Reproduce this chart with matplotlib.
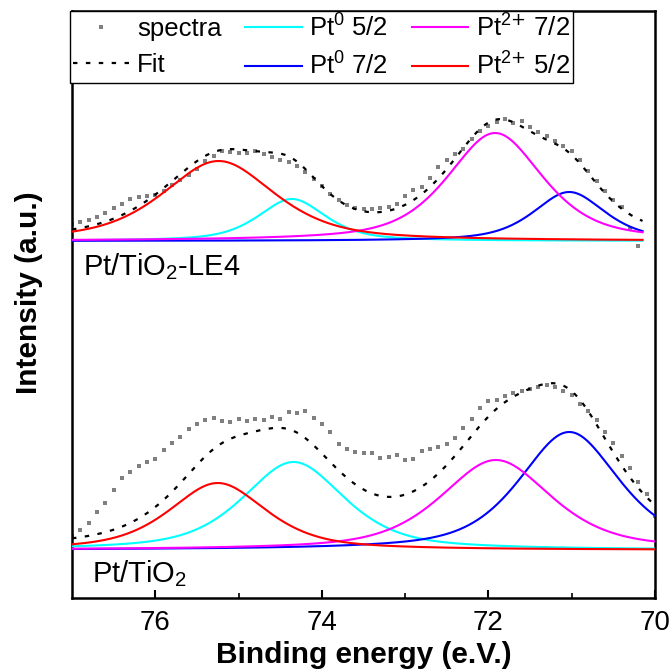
import numpy as np
import matplotlib
matplotlib.use("Agg")
import matplotlib.pyplot as plt
from matplotlib.lines import Line2D

plt.rcParams['font.family'] = ['Liberation Sans', 'DejaVu Sans']
plt.rcParams['mathtext.default'] = 'regular'

# ---- measured spectra (binding energy in eV, intensity in a.u. above background) ----
energy_le4 = np.round(np.arange(77.0, 70.15, -0.1), 1)
spectra_le4 = [17, 19, 21, 24, 28, 33, 37, 42, 44, 45,
               46, 50, 56, 61, 66, 72, 80, 85, 90, 89,
               88, 88, 90, 87, 84, 81, 79, 75, 69, 62,
               55, 47, 41, 36, 33, 32, 32, 33, 34, 37,
               45, 51, 54, 63, 74, 81, 87, 92, 102, 110,
               115, 119, 122, 118, 120, 114, 109, 105, 100, 95,
               90, 81, 70, 60, 50, 41, 34, 12, -5]

energy_ref = np.round(np.arange(77.0, 69.95, -0.1), 1)
spectra_ref = [14, 20, 27, 38, 47, 60, 72, 78, 84, 88,
               91, 100, 107, 113, 121, 126, 130, 132, 129, 128,
               131, 129, 131, 130, 133, 131, 138, 137, 139, 132,
               126, 118, 106, 101, 98, 97, 97, 92, 93, 95,
               90, 91, 99, 101, 103, 106, 112, 122, 131, 142,
               149, 150, 154, 157, 159, 161, 163, 165, 163, 159,
               155, 146, 139, 130, 118, 107, 94, 82, 68, 56,
               34]

# ---- fitted components: Pt0 5/2, Pt0 7/2, Pt2+ 7/2, Pt2+ 5/2 ----
peak_labels = [r'Pt$^0$ 5/2', r'Pt$^0$ 7/2', r'Pt$^{2\text{+}}$ 7/2', r'Pt$^{2\text{+}}$ 5/2']
peak_colors = ['#00FFFF', '#0000FF', '#FF00FF', '#FF0000']

centers_le4 = [74.36, 71.03, 71.92, 75.24]
heights_le4 = [42, 49, 108, 80]
fwhm_le4 = [0.96, 1.02, 1.36, 1.60]

centers_ref = [74.34, 71.03, 71.91, 75.25]
heights_ref = [88, 118, 90, 67]
fwhm_ref = [1.45, 1.43, 1.58, 1.38]

gl_mix = 0.6               # Lorentzian fraction of the pseudo-Voigt line shape
offset_le4 = 357           # vertical stacking offsets
offset_ref = 48
range_le4 = (77.0, 70.15)
range_ref = (77.0, 70.0)

sample_names = [r'Pt/TiO$_2$-LE4', r'Pt/TiO$_2$']


def pseudo_voigt(e, center, height, fwhm, eta=gl_mix):
    x = (e - center) / (fwhm / 2.0)
    return height * (eta / (1.0 + x ** 2) + (1.0 - eta) * np.exp(-np.log(2.0) * x ** 2))


fig = plt.figure(figsize=(6.71, 6.71), dpi=100)
ax = fig.add_axes([0.1073, 0.1088, 0.8689, 0.8748])

fit_dash = (0, (2.0, 3.8))

datasets = [
    (energy_le4, spectra_le4, centers_le4, heights_le4, fwhm_le4, offset_le4, range_le4),
    (energy_ref, spectra_ref, centers_ref, heights_ref, fwhm_ref, offset_ref, range_ref),
]

for energy, spectra, centers, heights, widths, offset, erange in datasets:
    ax.plot(energy, np.asarray(spectra) + offset, linestyle='none', marker='s',
            markersize=2.8, color='#808080', markeredgewidth=0, zorder=2)
    e_fine = np.linspace(erange[0], erange[1], 600)
    comps = [pseudo_voigt(e_fine, c, h, w) for c, h, w in zip(centers, heights, widths)]
    ax.plot(e_fine, np.sum(comps, axis=0) + offset, color='black', lw=1.6,
            linestyle=fit_dash, zorder=3)
    for comp, col in zip(comps, peak_colors):
        ax.plot(e_fine, comp + offset, color=col, lw=1.5, zorder=4)

ax.text(76.87, 323, sample_names[0], fontsize=21, ha='left', va='baseline')
ax.text(76.76, 16, sample_names[1], fontsize=21, ha='left', va='baseline')

ax.set_xlim(77, 70)
ax.set_ylim(0, 587)
ax.set_xticks([76, 74, 72, 70])
ax.set_xticks([75, 73, 71], minor=True)
ax.set_yticks([])
ax.tick_params(axis='x', which='major', direction='in', length=6, width=1.5,
               labelsize=20, pad=9, top=False)
ax.tick_params(axis='x', which='minor', direction='in', length=3.5, width=1.2, top=False)
for sp in ax.spines.values():
    sp.set_linewidth(1.8)

ax.set_xlabel('Binding energy (e.V.)', fontsize=21.5, fontweight='bold')
ax.xaxis.set_label_coords(0.5, -0.073)
ax.set_ylabel('Intensity (a.u.)', fontsize=21.5, fontweight='bold')
ax.yaxis.set_label_coords(-0.05, 0.52)

handles = [
    Line2D([], [], linestyle='none', marker='s', markersize=2.8, color='#808080',
           markeredgewidth=0),
    Line2D([], [], color='black', lw=1.6, linestyle=fit_dash),
] + [Line2D([], [], color=c, lw=1.5) for c in peak_colors]
labels = ['spectra', 'Fit'] + peak_labels

leg = ax.legend(handles, labels, ncol=3, loc='upper left',
                bbox_to_anchor=(-0.0034, 1.0, 0.863, 0.0), mode='expand',
                fontsize=18.5, handlelength=2.2, handletextpad=0.3,
                columnspacing=0.8, labelspacing=0.45, borderpad=0.12,
                borderaxespad=0.0, numpoints=1, fancybox=False, framealpha=1.0,
                edgecolor='black')
leg.get_frame().set_linewidth(1.0)

fig.savefig('out.png', dpi=100)
